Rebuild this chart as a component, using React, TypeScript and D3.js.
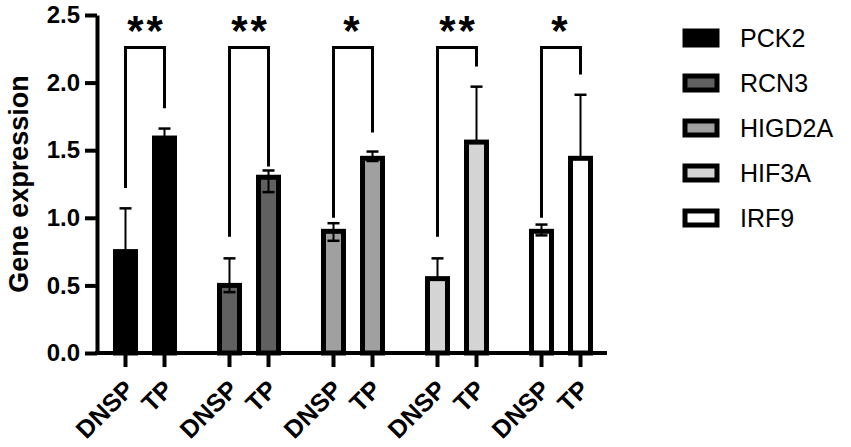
import React, { useRef, useEffect } from 'react';
import * as d3 from 'd3';

// values
const genes = ['PCK2', 'RCN3', 'HIGD2A', 'HIF3A', 'IRF9'];
const groups = ['DNSP', 'TP'];
const fills = ['#000000', '#606060', '#a0a0a0', '#d4d4d4', '#ffffff'];

const dnspMean = [0.75, 0.5, 0.9, 0.55, 0.9];
const dnspUpper = [1.07, 0.7, 0.96, 0.7, 0.95];
const dnspLower = [0.45, 0.45, 0.83, 0.55, 0.87];
const tpMean = [1.59, 1.3, 1.44, 1.56, 1.44];
const tpUpper = [1.66, 1.35, 1.49, 1.97, 1.91];
const tpLower = [1.52, 1.19, 1.42, 1.56, 1.44];

const stars = ['**', '**', '*', '**', '*'];
const bracketTop = 2.26;
const bracketLeftEnd = [1.22, 0.86, 1.0, 0.86, 1.0];
const bracketRightEnd = [1.81, 1.38, 1.63, 2.12, 2.06];

const yTicks = [0, 0.5, 1.0, 1.5, 2.0, 2.5];

const FONT = 'Liberation Sans, Arial, Helvetica, sans-serif';

const App: React.FC = () => {
  const ref = useRef<SVGSVGElement | null>(null);

  useEffect(() => {
    const svg = d3.select(ref.current);
    svg.selectAll('*').remove();

    const y = d3.scaleLinear().domain([0, 2.5]).range([353, 15]);
    const outer = d3.scaleBand<string>().domain(genes).range([93, 613]);
    const inner = d3.scalePoint<string>().domain(groups).range([0, outer.bandwidth()]).padding(0.833);
    const cx = (gi: number, c: string) => outer(genes[gi])! + inner(c)!;

    const barW = 20;
    const capW = 12;

    const rows = genes.flatMap((g, i) => [
      { gi: i, cond: 'DNSP', mean: dnspMean[i], up: dnspUpper[i], lo: dnspLower[i] },
      { gi: i, cond: 'TP', mean: tpMean[i], up: tpUpper[i], lo: tpLower[i] },
    ]);

    // bars
    svg.append('g').selectAll('rect').data(rows).join('rect')
      .attr('x', (d) => cx(d.gi, d.cond) - barW / 2)
      .attr('y', (d) => y(d.mean))
      .attr('width', barW)
      .attr('height', (d) => y(0) - y(d.mean))
      .attr('fill', (d) => fills[d.gi])
      .attr('stroke', '#000')
      .attr('stroke-width', 5);

    // error bars
    const err = svg.append('g').attr('stroke', '#000');
    rows.forEach((d) => {
      const x = cx(d.gi, d.cond);
      err.append('line').attr('x1', x).attr('x2', x).attr('y1', y(d.up)).attr('y2', y(d.lo)).attr('stroke-width', 2);
      err.append('line').attr('x1', x - capW / 2).attr('x2', x + capW / 2).attr('y1', y(d.up)).attr('y2', y(d.up)).attr('stroke-width', 2.5);
      if (d.lo < d.mean - 0.01) {
        err.append('line').attr('x1', x - capW / 2).attr('x2', x + capW / 2).attr('y1', y(d.lo)).attr('y2', y(d.lo)).attr('stroke-width', 2.5);
      }
    });

    // significance brackets
    const br = svg.append('g');
    genes.forEach((g, i) => {
      const x1 = cx(i, 'DNSP');
      const x2 = cx(i, 'TP');
      const path = d3.path();
      path.moveTo(x1, y(bracketLeftEnd[i]));
      path.lineTo(x1, y(bracketTop));
      path.lineTo(x2, y(bracketTop));
      path.lineTo(x2, y(bracketRightEnd[i]));
      br.append('path').attr('d', path.toString()).attr('fill', 'none')
        .attr('stroke', '#000').attr('stroke-width', 3);
      br.append('text')
        .attr('x', (x1 + x2) / 2 + (stars[i].length > 1 ? 1.5 : 0))
        .attr('y', 45)
        .attr('text-anchor', 'middle')
        .attr('font-family', FONT)
        .attr('font-weight', 'bold')
        .attr('font-size', 42)
        .attr('letter-spacing', 3)
        .text(stars[i]);
    });

    // y axis
    const yAxis = svg.append('g').attr('transform', 'translate(97,0)')
      .call(d3.axisLeft(y).tickValues(yTicks).tickFormat(d3.format('.1f')).tickSize(12).tickSizeOuter(0).tickPadding(5));
    yAxis.select('.domain').attr('stroke-width', 4);
    yAxis.selectAll('.tick line').attr('stroke-width', 4);
    yAxis.selectAll('.tick text')
      .attr('font-family', FONT).attr('font-weight', 'bold').attr('font-size', 24).attr('fill', '#000');

    // x axis
    svg.append('line').attr('x1', 95).attr('x2', 607).attr('y1', y(0)).attr('y2', y(0))
      .attr('stroke', '#000').attr('stroke-width', 4);
    const xt = svg.append('g');
    rows.forEach((d) => {
      const x = cx(d.gi, d.cond);
      xt.append('line').attr('x1', x).attr('x2', x).attr('y1', y(0)).attr('y2', y(0) + 14)
        .attr('stroke', '#000').attr('stroke-width', 4);
      xt.append('text')
        .attr('transform', `translate(${x + 10},${y(0) + 38}) rotate(-45)`)
        .attr('text-anchor', 'end')
        .attr('font-family', FONT).attr('font-weight', 'bold').attr('font-size', 25)
        .text(d.cond);
    });

    // y label
    svg.append('text')
      .attr('transform', 'translate(28,184) rotate(-90)')
      .attr('text-anchor', 'middle')
      .attr('font-family', FONT).attr('font-weight', 'bold').attr('font-size', 27)
      .text('Gene expression');

    // legend
    const lg = svg.append('g');
    genes.forEach((g, i) => {
      const cy = 38 + i * 45;
      lg.append('rect').attr('x', 685).attr('y', cy - 7).attr('width', 32).attr('height', 14)
        .attr('fill', fills[i]).attr('stroke', '#000').attr('stroke-width', 5);
      lg.append('text').attr('x', 740).attr('y', cy + 9)
        .attr('font-family', FONT).attr('font-size', 25).attr('fill', '#000')
        .text(g);
    });
  }, []);

  return (
    <div style={{ position: 'absolute', left: 0, top: 0 }}>
      <svg ref={ref} width={851} height={447} style={{ display: 'block', background: '#fff' }} />
    </div>
  );
};

export default App;
